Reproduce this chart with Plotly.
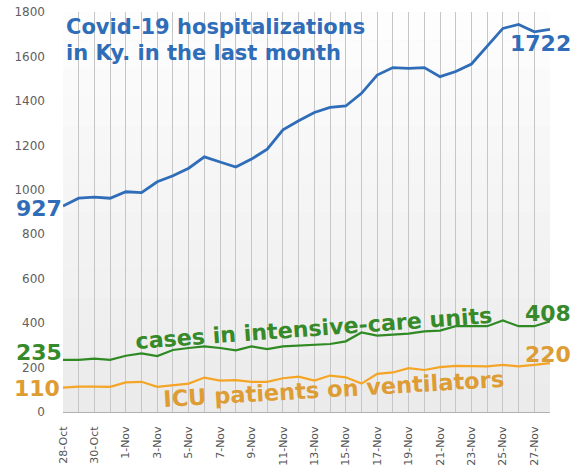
import plotly.graph_objects as go

dates = ["28-Oct", "29-Oct", "30-Oct", "31-Oct", "1-Nov", "2-Nov", "3-Nov", "4-Nov",
         "5-Nov", "6-Nov", "7-Nov", "8-Nov", "9-Nov", "10-Nov", "11-Nov", "12-Nov",
         "13-Nov", "14-Nov", "15-Nov", "16-Nov", "17-Nov", "18-Nov", "19-Nov", "20-Nov",
         "21-Nov", "22-Nov", "23-Nov", "24-Nov", "25-Nov", "26-Nov", "27-Nov", "28-Nov"]

hospitalized = [927, 962, 967, 962, 991, 987, 1036, 1063, 1097, 1148, 1125, 1102,
                1138, 1183, 1270, 1311, 1348, 1371, 1377, 1434, 1516, 1550, 1546, 1550,
                1509, 1532, 1566, 1645, 1726, 1744, 1711, 1722]

icu = [235, 235, 240, 235, 253, 264, 252, 279, 288, 295, 288, 277,
       295, 283, 295, 298, 303, 306, 318, 358, 344, 348, 353, 363,
       366, 386, 386, 386, 412, 386, 386, 408]

ventilators = [110, 114, 114, 113, 133, 136, 113, 121, 128, 155, 141, 143,
               136, 136, 152, 159, 141, 164, 156, 128, 172, 178, 197, 189,
               202, 208, 205, 205, 212, 205, 212, 220]

y_ticks = [0, 200, 400, 600, 800, 1000, 1200, 1400, 1600, 1800]

title_lines = ["Covid-19 hospitalizations", "in Ky. in the last month"]
icu_label = "cases in intensive-care units"
vent_label = "ICU patients on ventilators"

BLUE = "#2F6DB8"
GREEN = "#2F8A24"
GREEN_TXT = "#378A2A"
ORANGE = "#F4A526"
ORANGE_TXT = "#DE9C35"

W, H = 572, 465
ML, MR, MT, MB = 63, 22, 12, 53
PW, PH = W - ML - MR, H - MT - MB


def px(xp):
    return (xp - ML) / PW


def py(yp):
    return (H - MB - yp) / PH


x = list(range(len(dates)))

fig = go.Figure()
fig.add_trace(go.Scatter(x=x, y=hospitalized, mode="lines",
                         line=dict(color=BLUE, width=2.8), hoverinfo="skip"))
fig.add_trace(go.Scatter(x=x, y=icu, mode="lines",
                         line=dict(color=GREEN, width=2.2), hoverinfo="skip"))
fig.add_trace(go.Scatter(x=x, y=ventilators, mode="lines",
                         line=dict(color=ORANGE, width=2.2), hoverinfo="skip"))

# background gradient (white at top to light gray at bottom)
n_bands = 14
shapes = []
for k in range(n_bands):
    t = k / (n_bands - 1)
    g = int(round(235 + (253 - 235) * t))
    shapes.append(dict(type="rect", xref="paper", yref="paper",
                       x0=0, x1=1, y0=k / n_bands, y1=(k + 1) / n_bands,
                       fillcolor=f"rgb({g},{g},{g})", line=dict(width=0),
                       layer="below"))

FB = "DejaVu Sans"
annotations = [
    dict(text="<b>%s</b>" % title_lines[0], xref="paper", yref="paper",
         x=px(64), y=py(27), xanchor="left", yanchor="middle", showarrow=False,
         font=dict(family=FB, size=21, color=BLUE)),
    dict(text="<b>%s</b>" % title_lines[1], xref="paper", yref="paper",
         x=px(64), y=py(53), xanchor="left", yanchor="middle", showarrow=False,
         font=dict(family=FB, size=21, color=BLUE)),
    dict(text="<b>%d</b>" % hospitalized[0], x=x[0], y=hospitalized[0], xanchor="right",
         showarrow=False, xshift=1, yshift=-2,
         font=dict(family=FB, size=22, color=BLUE)),
    dict(text="<b>%d</b>" % hospitalized[-1], x=x[-1], y=hospitalized[-1], xanchor="center",
         showarrow=False, xshift=-10, yshift=-14,
         font=dict(family=FB, size=22, color=BLUE)),
    dict(text="<b>%d</b>" % icu[0], x=x[0], y=icu[0], xanchor="right",
         showarrow=False, xshift=1, yshift=7,
         font=dict(family=FB, size=22, color=GREEN_TXT)),
    dict(text="<b>%d</b>" % icu[-1], x=x[-1], y=icu[-1], xanchor="center",
         showarrow=False, xshift=-2, yshift=8,
         font=dict(family=FB, size=22, color=GREEN_TXT)),
    dict(text="<b>%d</b>" % ventilators[0], x=x[0], y=ventilators[0], xanchor="right",
         showarrow=False, xshift=-1, yshift=-1,
         font=dict(family=FB, size=22, color=ORANGE_TXT)),
    dict(text="<b>%d</b>" % ventilators[-1], x=x[-1], y=ventilators[-1], xanchor="center",
         showarrow=False, xshift=-2, yshift=9,
         font=dict(family=FB, size=22, color=ORANGE_TXT)),
    dict(text="<b>%s</b>" % icu_label, xref="paper", yref="paper",
         x=px(314), y=py(328), xanchor="center", yanchor="middle",
         textangle=-4.2, showarrow=False,
         font=dict(family=FB, size=22.2, color=GREEN_TXT)),
    dict(text="<b>%s</b>" % vent_label, xref="paper", yref="paper",
         x=px(333), y=py(389), xanchor="center", yanchor="middle",
         textangle=-3.4, showarrow=False,
         font=dict(family=FB, size=22.5, color=ORANGE_TXT)),
]

fig.update_layout(
    width=W, height=H,
    margin=dict(l=ML, r=MR, t=MT, b=MB, autoexpand=False),
    paper_bgcolor="white", plot_bgcolor="#f2f2f2",
    showlegend=False, shapes=shapes, annotations=annotations,
    xaxis=dict(range=[0, len(dates) - 1], tickmode="array",
               tickvals=x[::2], ticktext=dates[::2], tickangle=-90,
               showgrid=True, gridcolor="#c6c6c6", gridwidth=1,
               tickfont=dict(family="DejaVu Sans", size=11, color="#555555"),
               showline=True, linecolor="#b0b0b0", zeroline=False, ticks="",
               ticklabelstandoff=9, fixedrange=True),
    yaxis=dict(range=[0, 1800], tickvals=y_ticks, showgrid=False, zeroline=False,
               tickfont=dict(family="DejaVu Sans", size=12, color="#606060"),
               ticklabelstandoff=17, showline=False, fixedrange=True),
)
# vertical grid line at every day
fig.update_xaxes(minor=dict(tickvals=x, showgrid=True, gridcolor="#c6c6c6", gridwidth=1))

fig.write_html("out.html", config={"displayModeBar": False},
               post_script="document.body.style.margin='0';document.body.style.overflow='hidden';")
